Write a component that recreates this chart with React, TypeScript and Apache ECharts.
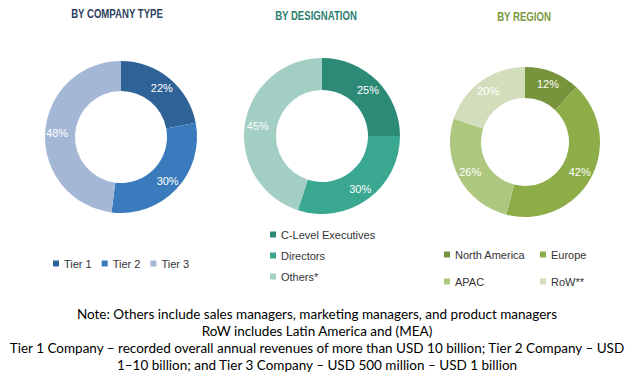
import React, { useEffect, useRef } from "react";
import * as echarts from "echarts";

const companyTypes = ["Tier 1", "Tier 2", "Tier 3"];
const companyValues = [22, 30, 48];
const designations = ["C-Level Executives", "Directors", "Others*"];
const designationValues = [25, 30, 45];
const regions = ["North America", "Europe", "APAC", "RoW**"];
const regionValues = [12, 42, 26, 20];

const chartTitles = ["BY COMPANY TYPE", "BY DESIGNATION", "BY REGION"];
const noteLines = [
  "Note: Others include sales managers, marketing managers, and product managers",
  "RoW includes Latin America and (MEA)",
  "Tier 1 Company \u2013 recorded overall annual revenues of more than USD 10 billion; Tier 2 Company \u2013 USD",
  "1\u201310 billion; and Tier 3 Company \u2013 USD 500 million \u2013 USD 1 billion",
];

const companyColors = ["#2F6397", "#3A7BBD", "#A4B7D5"];
const designationColors = ["#2C8A76", "#3AA891", "#A2CEC3"];
const regionColors = ["#77933C", "#8DAD48", "#AEC77F", "#D2DEBB"];
const titleColors = ["#2E3F5F", "#2E7E6E", "#7A9A3E"];

const arial = "'Liberation Sans', Arial, sans-serif";

function pieSeries(names: string[], values: number[], colors: string[], center: number[], radius: number[]) {
  return {
    type: "pie",
    center,
    radius,
    startAngle: 90,
    clockwise: true,
    avoidLabelOverlap: false,
    silent: true,
    label: {
      show: true,
      position: "inside",
      formatter: "{c}%",
      color: "#ffffff",
      fontSize: 11,
      fontFamily: arial,
    },
    labelLine: { show: false },
    data: names.map((n, i) => ({ name: n, value: values[i], itemStyle: { color: colors[i] } })),
  };
}

export default function App() {
  const ref = useRef<HTMLDivElement>(null);
  useEffect(() => {
    if (!ref.current) return;
    const chart = echarts.init(ref.current, null, { renderer: "svg" });
    const legendText = { fontSize: 11, fontFamily: arial, color: "#333333" };
    const titleX = [117, 316, 524];
    const titleY = [14, 16, 17];
    const legendBase = {
      padding: 0,
      itemWidth: 6,
      itemHeight: 6,
      icon: "rect",
      textStyle: legendText,
      selectedMode: false,
    };
    chart.setOption({
      animation: false,
      backgroundColor: "#ffffff",
      legend: [
        { ...legendBase, data: companyTypes, orient: "horizontal", left: 53, top: 258, itemGap: 10 },
        { ...legendBase, data: designations, orient: "vertical", left: 270, top: 229, itemGap: 10 },
        { ...legendBase, data: [regions[0], regions[2]], orient: "vertical", left: 444, top: 249, itemGap: 16 },
        { ...legendBase, data: [regions[1], regions[3]], orient: "vertical", left: 540, top: 249, itemGap: 16 },
      ],
      graphic: [
        ...chartTitles.map((t, i) => ({
          type: "text",
          x: titleX[i],
          y: titleY[i],
          scaleX: 0.8,
          silent: true,
          style: {
            text: t,
            fill: titleColors[i],
            font: `bold 12px ${arial}`,
            textAlign: "center",
            textVerticalAlign: "middle",
          },
        })),
        ...noteLines.map((t, i) => ({
          type: "text",
          x: 317,
          y: 314 + i * 17,
          silent: true,
          style: {
            text: t,
            fill: "#000000",
            font: `13.5px Lato, sans-serif`,
            textAlign: "center",
            textVerticalAlign: "middle",
          },
        })),
      ],
      series: [
        pieSeries(companyTypes, companyValues, companyColors, [121, 137], [46, 76]),
        pieSeries(designations, designationValues, designationColors, [322, 136], [46, 78]),
        pieSeries(regions, regionValues, regionColors, [525, 142], [44, 75]),
      ],
    });
    return () => chart.dispose();
  }, []);
  return (
    <div
      ref={ref}
      style={{ position: "fixed", left: 0, top: 0, width: 634, height: 383 }}
    />
  );
}
